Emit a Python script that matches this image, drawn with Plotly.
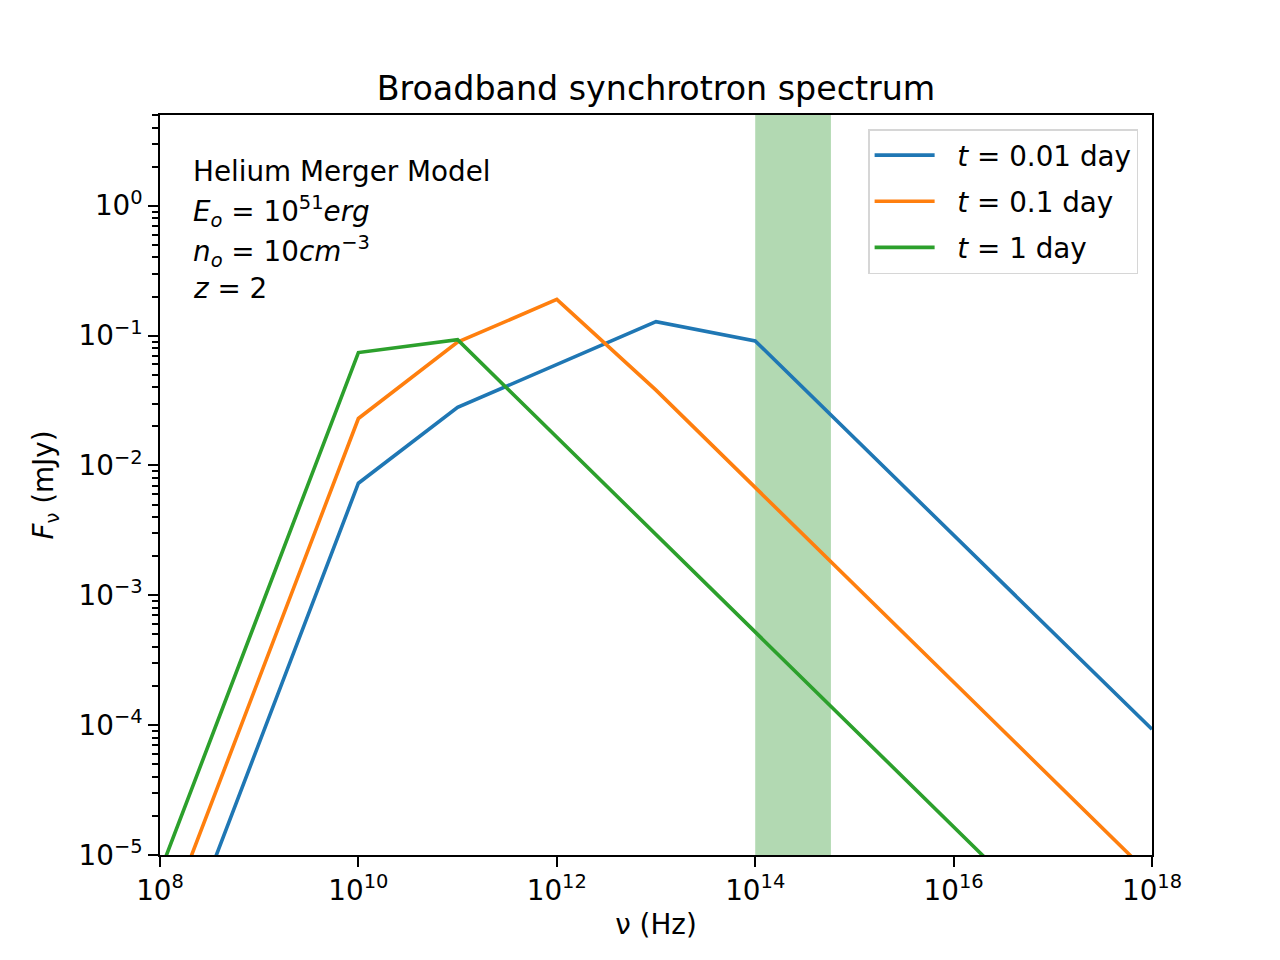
""" Broadband synchrotron spectrum, helium merger model """
import plotly.graph_objects as go

""" Data read off the reference """
# break frequencies (Hz) and flux densities (mJy) for each epoch
nu_001 = [1e8, 1e10, 1e11, 1e13, 1e14, 1e18]
flux_001 = [7.3e-7, 7.3e-3, 2.8e-2, 0.128, 0.091, 9.3e-5]

nu_01 = [1e8, 1e10, 1e11, 1e12, 1e13, 1e18]
flux_01 = [2.3e-6, 2.3e-2, 8.9e-2, 0.19, 0.038, 6.8e-6]

nu_1 = [1e8, 1e10, 1e11, 1e18]
flux_1 = [7.4e-6, 7.4e-2, 9.3e-2, 5.2e-7]

labels = ["<i>t</i> = 0.01 day", "<i>t</i> = 0.1 day", "<i>t</i> = 1 day"]
colors = ["#1f77b4", "#ff7f0e", "#2ca02c"]

# shaded optical/IR band
band = [1e14, 5.8e14]

x_ticks = [1e8, 1e10, 1e12, 1e14, 1e16, 1e18]
x_ticktext = ["10<sup>8</sup>", "10<sup>10</sup>", "10<sup>12</sup>",
              "10<sup>14</sup>", "10<sup>16</sup>", "10<sup>18</sup>"]
y_ticks = [1e-5, 1e-4, 1e-3, 1e-2, 1e-1, 1e0]
y_ticktext = ["10<sup>−5</sup>", "10<sup>−4</sup>", "10<sup>−3</sup>",
              "10<sup>−2</sup>", "10<sup>−1</sup>", "10<sup>0</sup>"]

model_text = [
    "Helium Merger Model",
    "<i>E</i><sub><i>o</i></sub> = 10<sup>51</sup><i>erg</i>",
    "<i>n</i><sub><i>o</i></sub> = 10<i>cm</i><sup>−3</sup>",
    "<i>z</i> = 2",
]

FONT = "DejaVu Sans"
PAD = "\u00a0\u00a0"  # gap between legend line and label

""" Build figure """
fig = go.Figure()
for i, (nu, flux, lab, col) in enumerate(zip([nu_001, nu_01, nu_1], [flux_001, flux_01, flux_1], labels, colors)):
    fig.add_trace(go.Scatter(x=nu, y=flux, mode="lines", name=PAD + lab, legendgroup=str(i),
                             line=dict(color=col, width=3.6)))

fig.add_shape(type="rect", xref="x", yref="paper", x0=band[0], x1=band[1], y0=0, y1=1,
              fillcolor="rgba(0,128,0,0.3)", line=dict(width=0), layer="below")

# text block in upper left
for i, txt in enumerate(model_text):
    fig.add_annotation(text=txt, xref="paper", yref="paper", x=0.031, y=[0.923, 0.870, 0.816, 0.766][i],
                       xanchor="left", yanchor="middle", showarrow=False,
                       font=dict(family=FONT, size=27.8, color="black"))

axis_common = dict(
    type="log", showgrid=False, zeroline=False, showline=True, mirror=True,
    linecolor="black", linewidth=2.2, ticks="outside", ticklen=9.7, tickwidth=2.2,
    tickcolor="black", tickfont=dict(family=FONT, size=27.8, color="black"),
)

# the page body adds an 8px offset, so margins are shifted to compensate
fig.update_layout(
    width=1280, height=960,
    margin=dict(l=152, r=136, t=107, b=113),
    paper_bgcolor="white", plot_bgcolor="white",
    font=dict(family=FONT, size=27.8, color="black"),
    title=dict(text="Broadband synchrotron spectrum", x=(656 - 8) / 1280, xanchor="center",
               y=1 - 80 / 960, yanchor="middle", font=dict(family=FONT, size=33.3, color="black")),
    xaxis=dict(axis_common, range=[8, 18], tickvals=x_ticks, ticktext=x_ticktext,
               title=dict(text="ν (Hz)", standoff=8, font=dict(family=FONT, size=27.8))),
    yaxis=dict(axis_common, range=[-5, 0.699], tickvals=y_ticks, ticktext=y_ticktext,
               minor=dict(ticks="outside", ticklen=5.6, tickwidth=1.6, tickcolor="black", dtick="D1"),
               title=dict(text="<i>F</i><sub>ν</sub> (mJy)", standoff=17, font=dict(family=FONT, size=27.8))),
    legend=dict(x=0.986, y=0.981, xanchor="right", yanchor="top", tracegroupgap=7,
                bgcolor="rgba(255,255,255,0.8)", bordercolor="#d6d6d6", borderwidth=1.5,
                font=dict(family=FONT, size=27.8, color="black"), itemwidth=60),
    showlegend=True,
)

fig.write_html("out.html")
